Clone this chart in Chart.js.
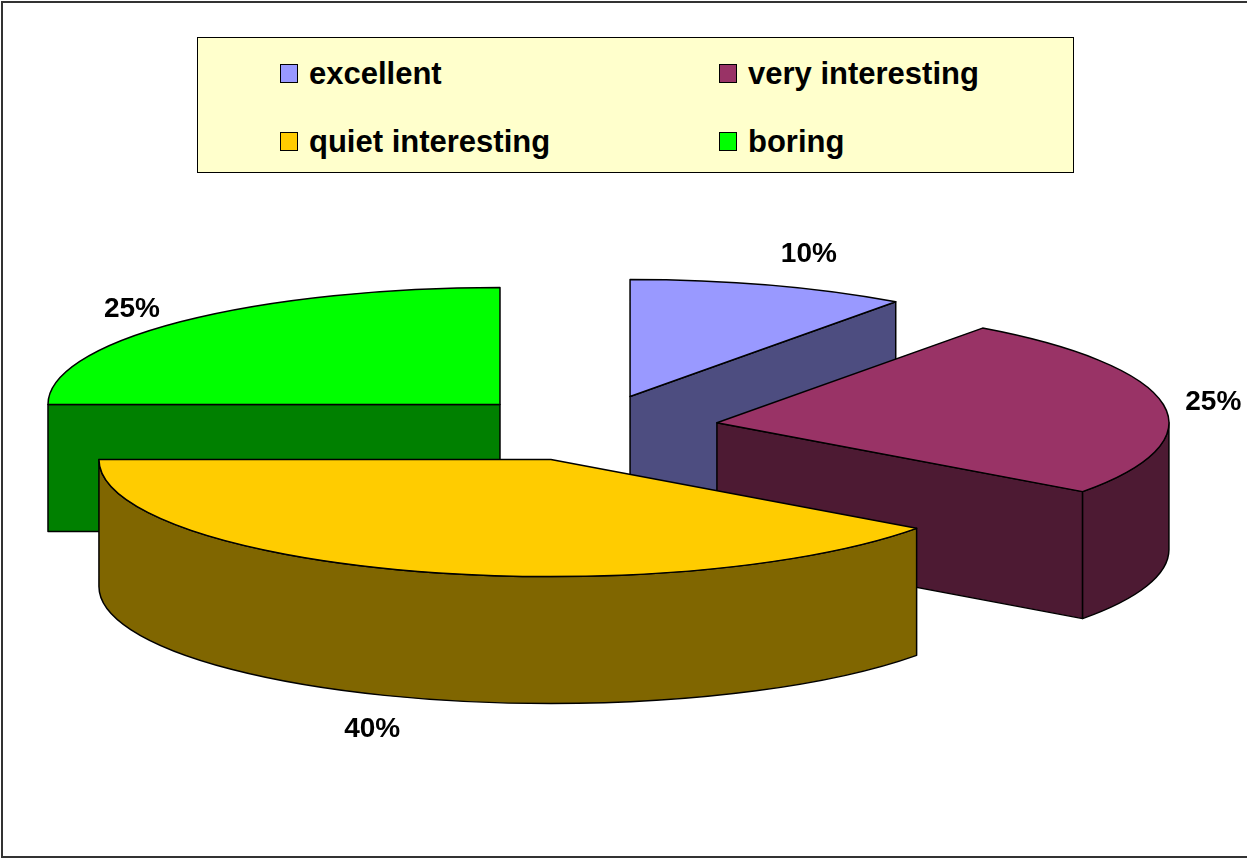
<!DOCTYPE html>
<html>
<head>
<meta charset="utf-8">
<script src="https://cdn.jsdelivr.net/npm/chart.js@4"></script>
<style>
  html, body { margin: 0; padding: 0; background: #fff; }
  body { width: 1247px; height: 859px; position: relative; overflow: hidden; font-family: "Liberation Sans", Arial, sans-serif; }
  #frame { position: absolute; left: 1px; top: 1px; width: 1300px; height: 857px; box-sizing: border-box; border: 2px solid #333; }
  #chart { position: absolute; left: 0; top: 0; }
  #legend { position: absolute; left: 197px; top: 37px; width: 877px; height: 136px; box-sizing: border-box; background: #ffffcc; border: 1px solid #000; }
  .leg-item { position: absolute; display: flex; align-items: center; height: 19px; gap: 11px; white-space: nowrap; }
  .leg-swatch { width: 18px; height: 19px; box-sizing: border-box; border: 1.5px solid #000; }
  .leg-text { font-weight: bold; font-size: 31px; line-height: 19px; color: #000; }
</style>
</head>
<body>
<div id="frame"></div>
<canvas id="chart" width="1247" height="859"></canvas>
<div id="legend"></div>
<script>
const labels = ['excellent', 'very interesting', 'quiet interesting', 'boring'];
const values = [10, 25, 40, 25];
const topColors = ['#9999ff', '#993366', '#ffcc00', '#00ff00'];
const sideColors = ['#4d4d80', '#4d1a33', '#806600', '#008000'];

const RADIUS = 452;     // horizontal radius of the pie, px
const TILT = 0.259;     // vertical squash of the top face
const DEPTH = 127;      // extrusion height, px
const EXPLODE = 128;    // how far each slice is pulled out
const LABEL_GAP = 50;

// legend, two columns
document.getElementById('legend').innerHTML = labels.map((l, i) => `
  <div class="leg-item" style="left:${i % 2 ? 521 : 82}px;top:${i < 2 ? 26 : 94}px">
    <span class="leg-swatch" style="background:${topColors[i]}"></span>
    <span class="leg-text">${l}</span>
  </div>`).join('');

const total = values.reduce((a, b) => a + b, 0);

function drawSides(ctx, s) {
  const R = s.outerRadius, ry = R * TILT;
  ctx.fillStyle = sideColors[s.i];
  const faces = [
    [s.startAngle, Math.cos(s.startAngle) < -1e-6],
    [s.endAngle, Math.cos(s.endAngle) > 1e-6],
  ];
  faces.forEach(([a, visible]) => {
    if (!visible) return;
    const ex = s.cx + R * Math.cos(a), ey = s.cy + ry * Math.sin(a);
    ctx.beginPath();
    ctx.moveTo(s.cx, s.cy);
    ctx.lineTo(ex, ey);
    ctx.lineTo(ex, ey + DEPTH);
    ctx.lineTo(s.cx, s.cy + DEPTH);
    ctx.closePath();
    ctx.fill();
    ctx.stroke();
  });
  // curved wall, only the front half of the ellipse shows
  const a1 = Math.max(s.startAngle, 0), a2 = Math.min(s.endAngle, Math.PI);
  if (a2 > a1) {
    ctx.beginPath();
    ctx.ellipse(s.cx, s.cy, R, ry, 0, a1, a2);
    ctx.ellipse(s.cx, s.cy + DEPTH, R, ry, 0, a2, a1, true);
    ctx.closePath();
    ctx.fill();
    ctx.stroke();
  }
}

function drawTop(ctx, s) {
  ctx.save();
  ctx.translate(s.cx - s.x, s.cy);
  ctx.scale(1, TILT);
  ctx.translate(0, -s.y);
  s.arc.draw(ctx);
  ctx.beginPath();
  ctx.moveTo(s.x, s.y);
  ctx.arc(s.x, s.y, s.outerRadius, s.startAngle, s.endAngle);
  ctx.closePath();
  ctx.restore();
  ctx.stroke();
}

const pie3d = {
  id: 'pie3d',
  beforeDatasetsDraw(chart) {
    const ctx = chart.ctx;
    const slices = chart.getDatasetMeta(0).data.map((arc, i) => {
      const p = arc.getProps(['x', 'y', 'startAngle', 'endAngle', 'outerRadius'], true);
      const mid = (p.startAngle + p.endAngle) / 2;
      return {
        arc, i, ...p, mid,
        cx: p.x + Math.cos(mid) * EXPLODE,
        cy: p.y + Math.sin(mid) * EXPLODE * TILT,
      };
    });
    ctx.save();
    ctx.lineWidth = 1.5;
    ctx.strokeStyle = '#000';
    ctx.lineJoin = 'round';
    // back to front
    slices.slice().sort((a, b) => Math.sin(a.mid) - Math.sin(b.mid)).forEach((s) => {
      drawSides(ctx, s);
      drawTop(ctx, s);
    });

    ctx.font = 'bold 28px "Liberation Sans", Arial, sans-serif';
    ctx.fillStyle = '#000';
    ctx.textAlign = 'center';
    ctx.textBaseline = 'middle';
    slices.forEach((s) => {
      const dx = s.outerRadius * Math.cos(s.mid);
      const dy = s.outerRadius * TILT * Math.sin(s.mid);
      const len = Math.hypot(dx, dy);
      const ex = s.cx + dx;
      const ey = s.cy + dy + (Math.sin(s.mid) > 0 ? DEPTH : 0);
      const pct = Math.round(values[s.i] / total * 100) + '%';
      ctx.fillText(pct, ex + dx / len * LABEL_GAP, ey + dy / len * LABEL_GAP);
    });
    ctx.restore();
    return false;
  },
};

new Chart(document.getElementById('chart'), {
  type: 'pie',
  data: {
    labels,
    datasets: [{
      data: values,
      backgroundColor: topColors,
      borderWidth: 0,
      offset: 0,
      hoverOffset: 0,
      clip: false,
    }],
  },
  options: {
    responsive: false,
    animation: false,
    events: [],
    radius: RADIUS,
    layout: { padding: { left: 0, right: 66, top: 0, bottom: 3 } },
    plugins: { legend: { display: false }, tooltip: { enabled: false } },
  },
  plugins: [pie3d],
});
</script>
</body>
</html>
